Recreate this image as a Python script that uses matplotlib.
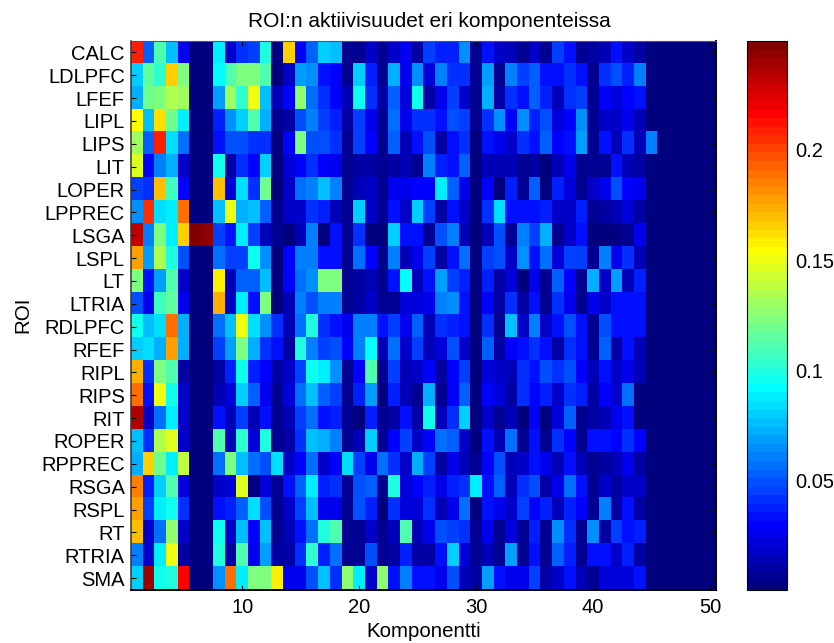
import matplotlib
matplotlib.use("Agg")
import matplotlib.pyplot as plt
import numpy as np
from matplotlib.colors import ListedColormap

plt.rcParams["font.family"] = ["Liberation Sans", "DejaVu Sans"]

rois = ["CALC", "LDLPFC", "LFEF", "LIPL", "LIPS", "LIT", "LOPER", "LPPREC", "LSGA", "LSPL", "LT", "LTRIA",
        "RDLPFC", "RFEF", "RIPL", "RIPS", "RIT", "ROPER", "RPPREC", "RSGA", "RSPL", "RT", "RTRIA", "SMA"]

# values per component, the empty tail of each row is filled in below
calc = [.21,.052,.11,.075,.026,.001,.001,.09,.018,.04,.047,.1,.004,.165,.028,.055,.082,.078,.006,.008,.018,.006,.02,.024,.01,
        .047,.036,.036,.065,.005,.035,.02,.014,.005,.02,.005,.045,.032,.006,.012,.014,.032,.018,.012]
ldlpfc = [.082,.115,.102,.165,.122,.001,.001,.092,.11,.122,.122,.11,.004,.02,.07,.063,.032,.028,.006,.082,.038,.006,.072,.026,.063,
          .022,.062,.04,.04,.005,.068,.005,.06,.044,.052,.032,.032,.042,.034,.008,.042,.048,.036,.062]
lfef = [.072,.118,.125,.135,.132,.001,.001,.068,.132,.102,.15,.078,.014,.03,.128,.058,.042,.03,.016,.094,.04,.012,.052,.022,.094,
        .01,.024,.045,.018,.005,.072,.012,.04,.032,.055,.036,.014,.042,.044,.008,.028,.022,.028,.032]
lipl = [.155,.076,.16,.118,.088,.001,.001,.038,.066,.082,.112,.072,.006,.012,.048,.06,.044,.038,.012,.045,.024,.006,.056,.024,.04,
        .04,.032,.05,.044,.005,.042,.065,.028,.064,.036,.05,.022,.028,.064,.008,.018,.02,.024,.014]
lips = [.132,.055,.21,.085,.058,.001,.001,.034,.05,.05,.04,.042,.004,.03,.122,.05,.05,.042,.006,.044,.028,.006,.054,.014,.034,
        .05,.012,.032,.04,.004,.032,.024,.02,.042,.032,.052,.028,.032,.07,.008,.032,.014,.042,.014,.062]
lit = [.148,.03,.06,.072,.018,.001,.001,.094,.012,.04,.03,.082,.004,.022,.03,.04,.03,.026,.006,.01,.012,.006,.012,.016,.008,
       .06,.036,.032,.055,.004,.016,.016,.014,.006,.012,.004,.016,.024,.006,.006,.006,.032,.014,.01]
loper = [.044,.04,.168,.108,.028,.001,.001,.168,.022,.085,.04,.118,.004,.018,.058,.06,.078,.062,.006,.016,.02,.006,.024,.024,.028,
         .03,.088,.054,.026,.004,.028,.004,.036,.006,.055,.004,.036,.022,.006,.018,.026,.05,.03,.024]
lpprec = [.066,.203,.086,.09,.188,.001,.001,.078,.152,.074,.078,.054,.006,.018,.02,.04,.036,.016,.008,.082,.018,.006,.032,.018,.082,
          .044,.01,.032,.02,.004,.042,.084,.034,.032,.032,.036,.018,.02,.036,.006,.01,.014,.022,.012]
lsga = [.232,.062,.122,.088,.165,.25,.245,.045,.034,.09,.045,.014,.006,.004,.014,.06,.004,.032,.006,.04,.004,.004,.082,.034,.034,
        .006,.05,.062,.016,.004,.014,.048,.006,.062,.044,.074,.006,.02,.032,.004,.004,.004,.006,.024]
lspl = [.178,.068,.135,.098,.05,.001,.001,.056,.046,.046,.094,.066,.004,.03,.062,.062,.032,.032,.008,.058,.03,.005,.062,.016,.026,
        .045,.012,.032,.056,.004,.045,.05,.018,.066,.032,.058,.022,.044,.044,.006,.06,.024,.04,.016]
lt = [.125,.032,.068,.11,.02,.001,.001,.157,.016,.052,.052,.078,.004,.028,.056,.064,.125,.125,.006,.01,.014,.006,.032,.092,.016,
      .032,.07,.044,.036,.004,.036,.01,.022,.004,.024,.006,.055,.03,.006,.072,.018,.07,.016,.036]
ltria = [.05,.026,.106,.116,.024,.001,.001,.172,.018,.09,.032,.122,.004,.016,.06,.05,.062,.062,.006,.01,.02,.006,.008,.022,.022,
         .024,.062,.066,.034,.004,.028,.012,.042,.012,.032,.006,.04,.024,.006,.026,.018,.032,.032,.032]
rdlpfc = [.094,.076,.086,.188,.072,.001,.001,.058,.078,.152,.086,.066,.04,.016,.058,.098,.04,.032,.024,.06,.06,.032,.044,.026,.054,
          .014,.042,.036,.032,.004,.04,.006,.075,.02,.06,.018,.032,.05,.032,.008,.05,.032,.032,.032]
rfef = [.08,.086,.074,.176,.072,.001,.001,.044,.068,.122,.072,.04,.032,.012,.098,.06,.044,.05,.03,.062,.092,.014,.056,.018,.044,
        .014,.022,.048,.018,.004,.052,.012,.028,.034,.04,.034,.012,.04,.032,.008,.052,.012,.032,.016]
ripl = [.172,.04,.122,.11,.012,.001,.001,.012,.038,.094,.036,.028,.012,.018,.044,.096,.088,.066,.006,.028,.112,.006,.044,.014,.018,
        .03,.01,.028,.044,.004,.022,.02,.014,.04,.034,.048,.04,.05,.03,.014,.034,.018,.024,.014]
rips = [.19,.032,.15,.094,.018,.001,.001,.014,.022,.08,.052,.024,.006,.022,.056,.078,.052,.046,.006,.038,.07,.004,.036,.016,.008,
        .073,.006,.03,.055,.004,.03,.022,.012,.042,.03,.038,.02,.042,.038,.012,.028,.018,.056]
rit = [.235,.018,.058,.09,.018,.001,.001,.035,.014,.045,.014,.032,.006,.016,.045,.058,.032,.036,.005,.004,.036,.005,.01,.032,.012,
       .096,.014,.04,.08,.004,.018,.008,.016,.004,.03,.004,.022,.052,.006,.01,.016,.024,.032]
roper = [.078,.04,.135,.147,.02,.001,.001,.112,.016,.105,.022,.098,.006,.012,.04,.078,.072,.062,.006,.014,.082,.006,.028,.044,.018,
         .03,.058,.054,.02,.004,.032,.014,.056,.008,.032,.006,.04,.028,.006,.032,.032,.03,.04,.028]
rpprec = [.072,.165,.118,.088,.14,.001,.001,.056,.125,.076,.056,.048,.086,.018,.028,.056,.018,.028,.086,.046,.024,.058,.04,.018,.072,
          .046,.01,.024,.016,.005,.03,.05,.014,.018,.032,.026,.014,.032,.014,.006,.012,.016,.024,.012]
rsga = [.185,.036,.08,.112,.022,.001,.001,.018,.022,.145,.004,.022,.008,.032,.052,.088,.036,.04,.006,.048,.052,.006,.098,.022,.028,
        .036,.024,.036,.04,.09,.034,.052,.014,.04,.05,.01,.026,.056,.034,.008,.02,.012,.02,.02]
rspl = [.178,.046,.09,.095,.04,.001,.001,.032,.036,.052,.086,.05,.006,.018,.046,.076,.026,.026,.006,.05,.036,.004,.04,.022,.022,
        .04,.014,.024,.058,.004,.032,.024,.018,.045,.03,.036,.014,.038,.03,.008,.06,.01,.034,.01]
rt = [.168,.02,.056,.128,.02,.001,.001,.094,.018,.078,.028,.075,.006,.016,.032,.056,.1,.112,.006,.006,.018,.006,.014,.112,.016,
      .024,.05,.044,.04,.006,.024,.006,.022,.006,.036,.006,.066,.04,.006,.064,.012,.044,.032,.036]
rtria = [.06,.02,.088,.152,.012,.001,.001,.098,.012,.112,.024,.07,.01,.01,.04,.102,.036,.056,.006,.006,.05,.006,.01,.036,.012,
         .012,.032,.08,.022,.006,.014,.008,.07,.006,.032,.008,.055,.038,.008,.034,.032,.02,.038,.012]
sma = [.08,.24,.096,.1,.218,.001,.001,.066,.19,.09,.125,.125,.158,.024,.024,.05,.075,.042,.128,.088,.02,.128,.032,.06,.032,
       .032,.024,.05,.016,.01,.068,.034,.026,.026,.044,.012,.02,.032,.016,.008,.022,.022,.022,.034]

rows = [calc, ldlpfc, lfef, lipl, lips, lit, loper, lpprec, lsga, lspl, lt, ltria,
        rdlpfc, rfef, ripl, rips, rit, roper, rpprec, rsga, rspl, rt, rtria, sma]
data = np.array([r + [0.001] * (50 - len(r)) for r in rows])

# matlab style jet with 64 steps
i = np.arange(64)
jet64 = ListedColormap(np.column_stack([
    np.interp(i, [23, 39, 55, 63], [0, 1, 1, 0.5]),
    np.interp(i, [7, 23, 39, 55], [0, 1, 1, 0]),
    np.interp(i, [0, 7, 23, 39], [0.5, 1, 1, 0]),
]))

fig = plt.figure(figsize=(8.34, 6.43), dpi=100)
ax = fig.add_axes([131 / 834, 1 - 589.5 / 643, 585 / 834, 548.5 / 643])
im = ax.imshow(data, cmap=jet64, vmin=0.0006, vmax=0.2494, aspect="auto", interpolation="nearest",
               extent=(0.5, 50.5, 24.5, 0.5))

ax.set_xticks([10, 20, 30, 40, 50])
ax.set_yticks(np.arange(1, 25))
ax.set_yticklabels(rois)
ax.tick_params(direction="in", length=3.6, width=0.8, top=True, right=True, labelsize=14.5)
ax.tick_params(axis="x", pad=6)
ax.tick_params(axis="y", pad=4.5)
ax.set_xlabel("Komponentti", fontsize=14.8, labelpad=3.5)
ax.set_ylabel("ROI", fontsize=14.8, labelpad=6.5)
ax.set_title("ROI:n aktiivisuudet eri komponenteissa", fontsize=15, pad=10, x=0.51)

cax = fig.add_axes([747 / 834, 1 - 589.5 / 643, 40 / 834, 548.5 / 643])
cb = fig.colorbar(im, cax=cax)
cb.set_ticks([0.05, 0.1, 0.15, 0.2])
cb.set_ticklabels(["0.05", "0.1", "0.15", "0.2"])
cb.ax.tick_params(direction="in", length=0, labelsize=14.5, pad=6)

# left and top edges look lighter than right and bottom in the original
for a in [ax, cax]:
    a.spines["left"].set_color("#333333")
    a.spines["top"].set_color("#555555")
    a.spines["left"].set_linewidth(1.1)
    a.spines["right"].set_linewidth(1.4)
    a.spines["bottom"].set_linewidth(1.4)

fig.savefig("out.png", dpi=100)
